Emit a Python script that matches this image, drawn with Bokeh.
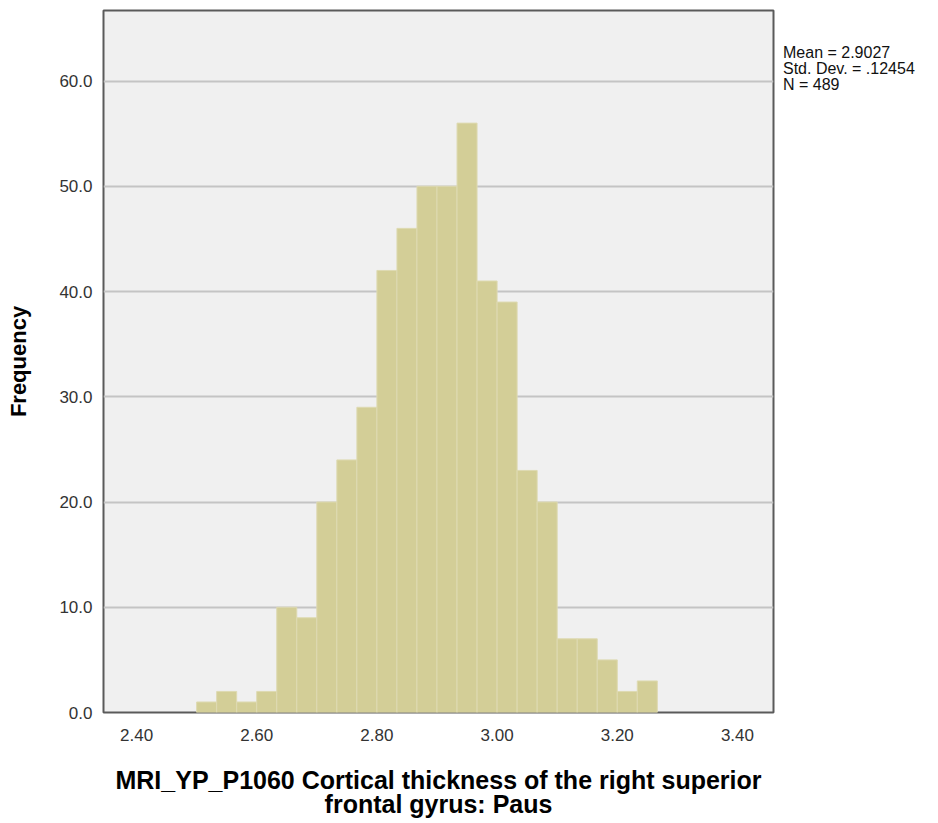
from bokeh.plotting import figure
from bokeh.models import Range1d, FixedTicker, NumeralTickFormatter, ColumnDataSource, Div
from bokeh.layouts import row
from bokeh.embed import file_html
from bokeh.resources import INLINE

# Data
counts = [1, 2, 1, 2, 10, 9, 20, 24, 29, 42, 46, 50, 50, 56, 41, 39, 23, 20, 7, 7, 5, 2, 3]
bin_start = 2.50
bin_width = 1.0 / 30.0
x_ticks = [2.40, 2.60, 2.80, 3.00, 3.20, 3.40]
y_ticks = [0, 10, 20, 30, 40, 50, 60]
stats_lines = ["Mean = 2.9027", "Std. Dev. = .12454", "N = 489"]
x_title = "MRI_YP_P1060 Cortical thickness of the right superior\nfrontal gyrus: Paus"
y_title = "Frequency"

lefts = [bin_start + i * bin_width for i in range(len(counts))]
rights = [l + bin_width for l in lefts]
src = ColumnDataSource(dict(left=lefts, right=rights, top=counts, bottom=[0] * len(counts)))

W, H = 783, 821
p = figure(width=W, height=H, output_backend="svg", toolbar_location=None,
           x_range=Range1d(2.345, 3.46), y_range=Range1d(0, 66.7))
p.min_border_left = 103
p.min_border_top = 10
p.min_border_right = 10
p.min_border_bottom = 107
p.background_fill_color = "#F0F0F0"
p.border_fill_color = "white"
p.outline_line_color = "#5a5a5a"
p.outline_line_width = 2

p.xgrid.grid_line_color = None
p.ygrid.grid_line_color = "#C4C4C4"
p.ygrid.grid_line_width = 2

p.quad(left="left", right="right", top="top", bottom="bottom", source=src,
       fill_color="#D3CE97", line_color="#DEDAB2", line_width=1)

for ax in (p.xaxis[0], p.yaxis[0]):
    ax.axis_line_color = None
    ax.major_tick_line_color = None
    ax.minor_tick_line_color = None
    ax.major_label_text_font = "Liberation Sans"
    ax.major_label_text_font_size = "17px"
    ax.major_label_text_color = "#333333"
    ax.axis_label_text_font = "Liberation Sans"
    ax.axis_label_text_font_style = "bold"
    ax.axis_label_text_color = "black"

p.xaxis[0].ticker = FixedTicker(ticks=x_ticks)
p.xaxis[0].formatter = NumeralTickFormatter(format="0.00")
p.xaxis[0].major_label_standoff = 10
p.xaxis[0].axis_label = x_title
p.xaxis[0].axis_label_text_font_size = "25px"
p.xaxis[0].axis_label_standoff = 22
p.xaxis[0].axis_label_text_line_height = 0.88

p.yaxis[0].ticker = FixedTicker(ticks=y_ticks)
p.yaxis[0].formatter = NumeralTickFormatter(format="0.0")
p.yaxis[0].major_label_standoff = 5
p.yaxis[0].axis_label = y_title
p.yaxis[0].axis_label_text_font_size = "22px"
p.yaxis[0].axis_label_standoff = 25

stats = Div(text="<br>".join(stats_lines), width=147, height=120, margin=(0, 0, 0, 0),
            styles={"font-family": "Liberation Sans", "font-size": "16px",
                    "line-height": "16px", "color": "#111111", "padding-top": "45px",
                    "white-space": "nowrap"})

layout = row(p, stats)
open("out.html", "w").write(file_html(layout, INLINE))
